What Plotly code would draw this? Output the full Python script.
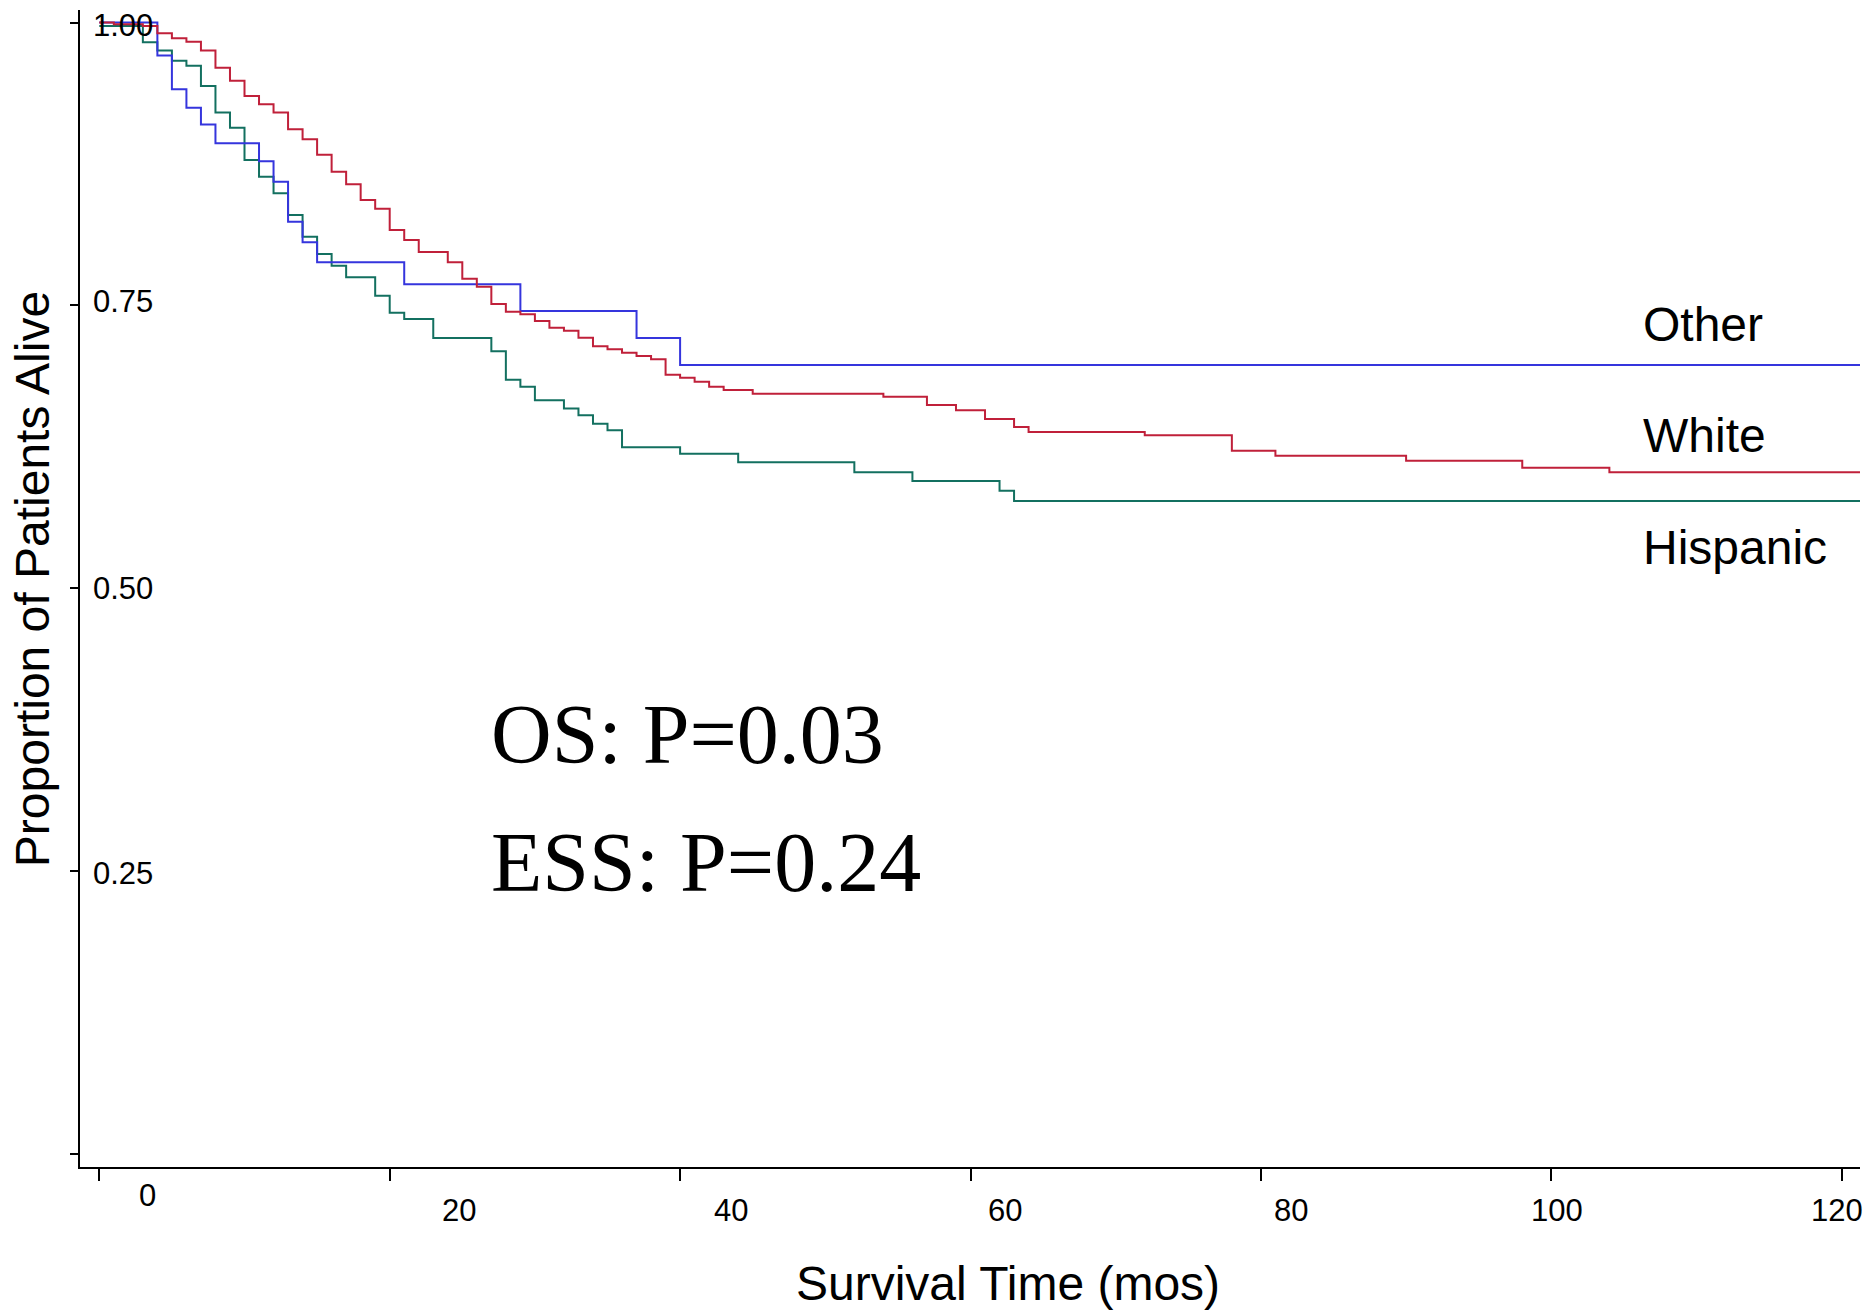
import plotly.graph_objects as go

# ---- data ----
END_TIME = 121.3  # follow-up extends to the right edge

white_t = [0, 1, 3, 4, 5, 6, 7, 8, 9, 10, 11, 12, 13, 14, 15, 16, 17, 18, 19, 20, 21, 22, 24, 25, 26, 27, 28,
           29, 30, 31, 32, 33, 34, 35, 36, 37, 38, 39, 40, 41, 42, 43, 45, 54, 57, 59, 61, 63, 64, 72, 78, 81, 90, 98, 104]
white_s = [1.0, 0.9985, 0.997, 0.9905, 0.9861, 0.9831, 0.9752, 0.9601, 0.9486, 0.9351, 0.9278, 0.9204, 0.9057,
           0.8969, 0.8832, 0.8682, 0.8571, 0.8432, 0.8355, 0.8167, 0.8079, 0.7972, 0.7881, 0.7736, 0.7666, 0.7513,
           0.7445, 0.7422, 0.7362, 0.7303, 0.7277, 0.7215, 0.7139, 0.7112, 0.7082, 0.7053, 0.7024, 0.6888, 0.6861,
           0.6826, 0.6782, 0.6753, 0.6720, 0.6693, 0.6620, 0.6573, 0.6496, 0.6426, 0.6381, 0.6352, 0.6216, 0.6172,
           0.6128, 0.6066, 0.6025]

other_t = [0, 4, 5, 6, 7, 8, 11, 12, 13, 14, 15, 21, 29, 37, 40]
other_s = [1.0, 0.9708, 0.941, 0.9248, 0.9098, 0.8933, 0.8774, 0.8594, 0.824, 0.8058, 0.7881, 0.7687, 0.7451,
           0.7212, 0.6974]

hisp_t = [0, 3, 4, 5, 6, 7, 8, 9, 10, 11, 12, 13, 14, 15, 16, 17, 19, 20, 21, 23, 27, 28, 29, 30, 32, 33, 34,
          35, 36, 40, 44, 52, 56, 62, 63]
hisp_s = [0.997, 0.9826, 0.9752, 0.9663, 0.9619, 0.944, 0.9204, 0.9071, 0.8786, 0.8638, 0.8491, 0.8299, 0.8108,
          0.7955, 0.7851, 0.7749, 0.7586, 0.7436, 0.738, 0.7212, 0.7095, 0.6844, 0.6782, 0.6662, 0.6588, 0.6529,
          0.6455, 0.6396, 0.6246, 0.619, 0.6114, 0.6025, 0.5948, 0.5863, 0.5772]

group_names = ["Other", "White", "Hispanic"]
x_tick_vals = [0, 20, 40, 60, 80, 100, 120]
x_tick_text = ["0", "20", "40", "60", "80", "100", "120"]
y_tick_vals = [0, 0.25, 0.5, 0.75, 1.0]
y_tick_text = ["", "0.25", "0.50", "0.75", "1.00"]
p_texts = ["OS: P=0.03", "ESS: P=0.24"]

# ---- layout / style settings ----
colors = {"Other": "#3535dd", "White": "#c0203a", "Hispanic": "#137060"}
xtick_label_pos = [3.3, 24.8, 43.5, 62.35, 82.1, 100.4, 119.65]   # label placement (offset from ticks as in source)
xtick_label_y = [-0.025, -0.038, -0.038, -0.038, -0.038, -0.038, -0.038]
ytick_label_x = -0.55
ytick_label_shift = [0, -2, 0, 4, -3]   # small pixel offsets as in source
group_label_pos = {"Other": (106.2, 0.733), "White": (106.2, 0.635), "Hispanic": (106.2, 0.536)}
p_text_pos = [(26.85, 0.371), (26.85, 0.258)]

SANS = "Liberation Sans, Arial, Helvetica, sans-serif"
SERIF = "Liberation Serif, Times New Roman, serif"

fig = go.Figure()
series = {"White": (white_t, white_s), "Other": (other_t, other_s), "Hispanic": (hisp_t, hisp_s)}
for name in ["Hispanic", "Other", "White"]:
    t, s = series[name]
    fig.add_trace(go.Scatter(
        x=t + [END_TIME], y=s + [s[-1]], mode="lines", name=name,
        line=dict(shape="hv", color=colors[name], width=2), showlegend=False,
    ))

annotations = []
for v, txt, px, py in zip(x_tick_vals, x_tick_text, xtick_label_pos, xtick_label_y):
    annotations.append(dict(x=px, y=py, xref="x", yref="paper", text=txt, showarrow=False,
                            xanchor="center", yanchor="middle", font=dict(family=SANS, size=31, color="black")))
for v, txt, sh in zip(y_tick_vals, y_tick_text, ytick_label_shift):
    if txt:
        annotations.append(dict(x=ytick_label_x, y=v, xref="x", yref="y", text=txt, showarrow=False,
                                xanchor="left", yanchor="middle", yshift=sh,
                                font=dict(family=SANS, size=31, color="black")))
for name in group_names:
    gx, gy = group_label_pos[name]
    annotations.append(dict(x=gx, y=gy, xref="x", yref="y", text=name, showarrow=False,
                            xanchor="left", yanchor="middle", font=dict(family=SANS, size=48, color="black")))
for txt, (px, py) in zip(p_texts, p_text_pos):
    annotations.append(dict(x=px, y=py, xref="x", yref="y", text=txt, showarrow=False,
                            xanchor="left", yanchor="middle", font=dict(family=SERIF, size=84, color="black")))
annotations.append(dict(x=0.5216, y=-0.101, xref="paper", yref="paper", text="Survival Time (mos)",
                        showarrow=False, xanchor="center", yanchor="middle",
                        font=dict(family=SANS, size=48, color="black")))
annotations.append(dict(x=-0.027, y=0.508, xref="paper", yref="paper", text="Proportion of Patients Alive",
                        showarrow=False, xanchor="center", yanchor="middle", textangle=-90,
                        font=dict(family=SANS, size=48, color="black")))

fig.update_layout(
    width=1865, height=1311,
    margin=dict(l=80, r=5, t=10, b=144),
    paper_bgcolor="white", plot_bgcolor="white",
    annotations=annotations,
    xaxis=dict(range=[-1.329, 121.26], tickvals=x_tick_vals, showticklabels=False,
               ticks="outside", ticklen=12, tickwidth=1.5, tickcolor="black",
               showline=True, linecolor="black", linewidth=2, showgrid=False, zeroline=False),
    yaxis=dict(range=[-0.0115, 1.0111], tickvals=y_tick_vals, showticklabels=False,
               ticks="outside", ticklen=8, tickwidth=1.5, tickcolor="black",
               showline=True, linecolor="black", linewidth=2, showgrid=False, zeroline=False),
)

fig.write_html("out.html", config={"displayModeBar": False},
               post_script="document.body.style.margin='0';document.body.style.overflow='hidden';")
